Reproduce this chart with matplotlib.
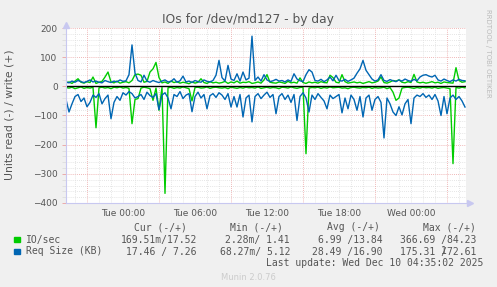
import numpy as np
import pandas as pd
import matplotlib
matplotlib.use('Agg')
import matplotlib.pyplot as plt

# 15-minute samples, Mon 19:15 -> Wed 04:30
times = pd.date_range('2025-12-08 19:15', periods=134, freq='15min')

io_read = [4, 6, 3, 8, 5, 2, 7, 4, 6, 3,
           142, 5, 3, 6, 4, 8, 3, 5, 2, 6,
           4, 7, 128, 45, 42, 6, 3, 5, 8, 48,
           6, 82, 4, 367, 5, 3, 7, 4, 6, 2,
           5, 8, 50, 4, 3, 6, 5, 2, 7, 4,
           3, 5, 6, 4, 8, 3, 5, 7, 4, 6,
           3, 5, 4, 6, 2, 7, 5, 3, 6, 4,
           5, 8, 3, 4, 6, 2, 5, 7, 4, 3,
           231, 6, 4, 5, 3, 7, 4, 6, 2, 5,
           4, 3, 6, 5, 8, 4, 3, 5, 6, 4,
           5, 3, 7, 4, 6, 5, 3, 8, 4, 20,
           48, 40, 6, 4, 3, 5, 7, 4, 6, 3,
           5, 4, 6, 3, 7, 5, 4, 6, 8, 265,
           4, 6, 3, 5]
io_write = [12, 15, 10, 18, 26, 14, 11, 16, 13, 32,
            10, 14, 17, 32, 49, 15, 12, 18, 11, 14,
            16, 12, 20, 40, 42, 38, 14, 17, 49, 60,
            82, 30, 12, 15, 10, 18, 13, 16, 11, 14,
            12, 9, 15, 11, 14, 26, 13, 10, 16, 12,
            14, 11, 13, 17, 10, 15, 12, 18, 11, 14,
            13, 16, 10, 12, 15, 11, 22, 40, 14, 12,
            11, 15, 13, 10, 17, 12, 14, 11, 29, 13,
            10, 15, 12, 14, 11, 16, 13, 12, 38, 30,
            14, 12, 40, 16, 11, 13, 15, 12, 14, 10,
            13, 16, 12, 14, 18, 32, 13, 11, 15, 20,
            18, 22, 14, 12, 16, 13, 41, 15, 12, 14,
            11, 13, 16, 12, 14, 10, 15, 13, 12, 11,
            64, 20, 14, 16]
req_read = [45, 88, 60, 35, 28, 52, 40, 70, 55, 30,
            38, 25, 60, 42, 30, 111, 55, 35, 48, 22,
            30, 18, 25, 40, 35, 28, 45, 20, 32, 38,
            25, 80, 30, 22, 40, 77, 28, 35, 18, 42,
            30, 25, 87, 35, 20, 40, 28, 77, 32, 25,
            38, 22, 30, 45, 25, 71, 35, 71, 28, 105,
            40, 30, 122, 35, 25, 42, 30, 20, 38, 28,
            94, 35, 25, 45, 30, 55, 28, 117, 35, 22,
            40, 88, 30, 45, 25, 38, 50, 77, 30, 42,
            35, 28, 91, 40, 77, 30, 45, 82, 35, 105,
            40, 30, 82, 45, 35, 55, 177, 40, 60, 88,
            100, 70, 98, 60, 45, 128, 40, 30, 35, 25,
            38, 30, 45, 28, 50, 100, 35, 94, 40, 30,
            45, 35, 50, 71]
req_write = [15, 12, 18, 14, 20, 16, 13, 17, 22, 15,
             18, 14, 12, 20, 16, 13, 18, 15, 22, 17,
             19, 40, 142, 45, 20, 15, 38, 18, 14, 20,
             16, 13, 18, 22, 15, 17, 26, 14, 19, 35,
             15, 18, 13, 20, 16, 14, 22, 17, 15, 20,
             38, 89, 30, 18, 72, 25, 20, 43, 18, 49,
             22, 28, 172, 20, 32, 18, 40, 22, 16, 19,
             24, 18, 20, 15, 22, 17, 43, 25, 19, 16,
             40, 57, 49, 20, 18, 24, 16, 22, 32, 19,
             38, 20, 18, 24, 17, 22, 28, 45, 60, 89,
             55, 40, 25, 18, 22, 40, 20, 17, 23, 19,
             16, 22, 18, 25, 20, 17, 24, 19, 32, 38,
             40, 35, 32, 38, 22, 18, 25, 20, 16, 22,
             18, 24, 20, 19]

x_start = pd.Timestamp('2025-12-08 19:15')
x_end = pd.Timestamp('2025-12-10 04:35')
label_times = pd.date_range('2025-12-09 00:00', periods=5, freq='6h')
major_times = pd.date_range('2025-12-08 21:00', periods=6, freq='6h')
minor_times = pd.date_range('2025-12-08 20:00', '2025-12-10 04:00', freq='1h')

legend_names = ['IO/sec', 'Req Size (KB)']
legend_cur = ['169.51m/17.52', '17.46 / 7.26']
legend_min = ['2.28m/ 1.41', '68.27m/ 5.12']
legend_avg = ['6.99 /13.84', '28.49 /16.90']
legend_max = ['366.69 /84.23', '175.31 /72.61']

GREEN = '#00CC00'
BLUE = '#0066B3'
TXT = '#555555'
RED_GRID = '#EBA0A0'
GRAY_GRID = '#DDDDDD'

W, H = 497, 287
fig = plt.figure(figsize=(W / 100, H / 100), dpi=100, facecolor='#F0F0F0')
ax = fig.add_axes([66 / W, (H - 203) / H, 400 / W, 175 / H])
ax.set_facecolor('white')
ax.set_xlim(x_start, x_end)
ax.set_ylim(-400, 200)

# grid
dots = (0, (1, 1.5))
for y in range(-380, 200, 20):
    if y % 100:
        ax.axhline(y, color=GRAY_GRID, lw=0.6, ls=dots, zorder=0)
for y in range(-300, 201, 100):
    ax.axhline(y, color=RED_GRID, lw=0.6, ls=dots, zorder=0)
for t in minor_times:
    if t not in major_times:
        ax.axvline(t, color=GRAY_GRID, lw=0.6, ls=dots, zorder=0)
for t in major_times:
    ax.axvline(t, color=RED_GRID, lw=0.6, ls=dots, zorder=0)

ax.plot(times, -np.array(io_read), color=GREEN, lw=1.0, zorder=2)
ax.plot(times, io_write, color=GREEN, lw=1.0, zorder=2)
ax.plot(times, -np.array(req_read), color=BLUE, lw=1.0, zorder=3)
ax.plot(times, req_write, color=BLUE, lw=1.0, zorder=3)
ax.axhline(0, color='black', lw=1.0, zorder=4)

ax.set_yticks(range(-400, 201, 100))
ax.set_yticks(range(-380, 200, 20), minor=True)
ax.set_xticks(label_times)
ax.set_xticklabels([t.strftime('%a %H:%M') for t in label_times])
ax.tick_params(axis='x', length=0, labelsize=6.5, labelcolor=TXT, pad=4)
ax.tick_params(axis='y', which='major', length=3, width=0.6, color=RED_GRID,
               labelsize=6.5, labelcolor=TXT, pad=3)
ax.tick_params(axis='y', which='minor', length=3, width=0.6, color=GRAY_GRID)
for s in ['top', 'right']:
    ax.spines[s].set_visible(False)
for s in ['left', 'bottom']:
    ax.spines[s].set_color('#C8C8F0')
    ax.spines[s].set_linewidth(0.8)
    ax.spines[s].set_zorder(5)
ax.plot([0], [1.02], marker='^', ms=4, color='#C8C8F0', transform=ax.transAxes, clip_on=False)
ax.plot([1.01], [0], marker='>', ms=4, color='#C8C8F0', transform=ax.transAxes, clip_on=False)

fig.text(248 / W, 1 - 19 / H, 'IOs for /dev/md127 - by day', ha='center', va='center',
         fontsize=8.8, color=TXT)
fig.text(10 / W, 1 - 115 / H, 'Units read (-) / write (+)', rotation=90, ha='center',
         va='center', fontsize=7.8, color=TXT)
fig.text(488 / W, 1 - 53 / H, 'RRDTOOL / TOBI OETIKER', rotation=270, ha='center',
         va='center', fontsize=5, color='#BBBBBB')

mono = dict(family='DejaVu Sans Mono', fontsize=7, color=TXT, va='center')
fig.text(187 / W, 1 - 227 / H, 'Cur (-/+)', ha='right', **mono)
fig.text(283 / W, 1 - 227 / H, 'Min (-/+)', ha='right', **mono)
fig.text(380 / W, 1 - 227 / H, 'Avg (-/+)', ha='right', **mono)
fig.text(476 / W, 1 - 227 / H, 'Max (-/+)', ha='right', **mono)
for k, col in enumerate([GREEN, BLUE]):
    yy = 1 - (239.5 + 12 * k) / H
    fig.patches.append(plt.Rectangle((14 / W, yy - 2.7 / H), 5.5 / W, 5.5 / H,
                                     transform=fig.transFigure, color=col))
    fig.text(26 / W, yy, legend_names[k], ha='left', **mono)
    fig.text(197 / W, yy, legend_cur[k], ha='right', **mono)
    fig.text(290 / W, yy, legend_min[k], ha='right', **mono)
    fig.text(383 / W, yy, legend_avg[k], ha='right', **mono)
    fig.text(476 / W, yy, legend_max[k], ha='right', **mono)
# the overlapping "1" in the last max value
fig.text(476 / W - 5 * 5.85 / W, 1 - 251.5 / H, '1', ha='right', **mono)
fig.text(483 / W, 1 - 263 / H, 'Last update: Wed Dec 10 04:35:02 2025', ha='right', **mono)
fig.text(248 / W, 1 - 277 / H, 'Munin 2.0.76', ha='center', va='center',
         fontsize=6, color='#CCCCCC')

plt.savefig('out.png', dpi=100, facecolor=fig.get_facecolor())
